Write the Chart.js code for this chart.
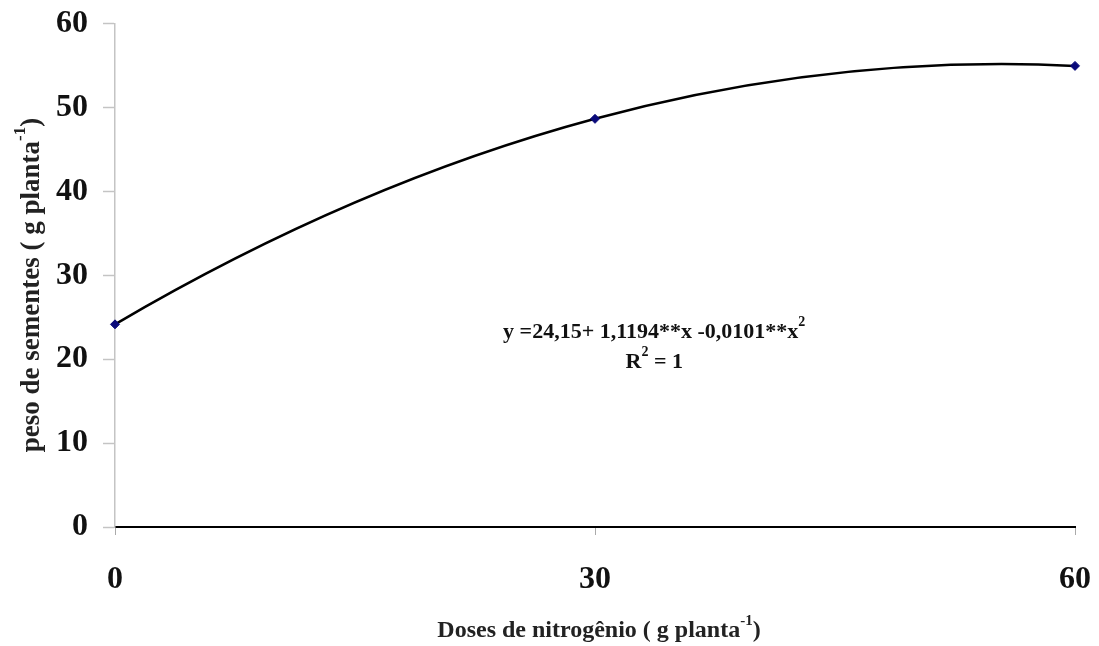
<!DOCTYPE html>
<html>
<head>
<meta charset="utf-8">
<script src="https://cdn.jsdelivr.net/npm/chart.js@4/dist/chart.umd.min.js"></script>
<style>
  html, body { margin: 0; padding: 0; background: #fff; }
  canvas { display: block; }
</style>
</head>
<body>
<canvas id="c" width="1099" height="646"></canvas>
<script>
// Nitrogen doses (g per plant) and seed weight (g per plant)
const doses = [0, 30, 60];
const pesoSementes = [24.15, 48.64, 54.95];
const xTicks = [0, 30, 60];
const yTicks = [0, 10, 20, 30, 40, 50, 60];

const SERIF = '"Liberation Serif", "Times New Roman", serif';

// Draws a run of text pieces, some as superscripts, centred on (cx, cy)
function drawRich(ctx, parts, cx, cy, size) {
  const supSize = Math.round(size * 0.62);
  let total = 0;
  const widths = parts.map(p => {
    ctx.font = 'bold ' + (p.sup ? supSize : size) + 'px ' + SERIF;
    const w = ctx.measureText(p.t).width;
    total += w;
    return w;
  });
  let x = cx - total / 2;
  ctx.textBaseline = 'middle';
  ctx.textAlign = 'left';
  parts.forEach((p, i) => {
    ctx.font = 'bold ' + (p.sup ? supSize : size) + 'px ' + SERIF;
    ctx.fillText(p.t, x, p.sup ? cy - size * 0.42 : cy);
    x += widths[i];
  });
}

// Smooths the line as the parabola through neighbouring points:
// each point's tangent comes from the 3-point Lagrange parabola around it.
const parabolaPlugin = {
  id: 'quadraticTrend',
  beforeDatasetDraw(chart, args) {
    const meta = args.meta;
    const line = meta.dataset;
    const pts = meta.data;
    if (!line || pts.length < 3) return;
    line.updateControlPoints(chart.chartArea, meta.indexAxis);
    const slopeAt = i => {
      const j = Math.min(Math.max(i - 1, 0), pts.length - 3);
      const a = pts[j], b = pts[j + 1], c = pts[j + 2];
      const x = pts[i].x;
      return a.y * (2 * x - b.x - c.x) / ((a.x - b.x) * (a.x - c.x))
           + b.y * (2 * x - a.x - c.x) / ((b.x - a.x) * (b.x - c.x))
           + c.y * (2 * x - a.x - b.x) / ((c.x - a.x) * (c.x - b.x));
    };
    pts.forEach((p, i) => {
      const m = slopeAt(i);
      if (i > 0) {
        const dx = (p.x - pts[i - 1].x) / 3;
        p.cp1x = p.x - dx; p.cp1y = p.y - m * dx;
      }
      if (i < pts.length - 1) {
        const dx = (pts[i + 1].x - p.x) / 3;
        p.cp2x = p.x + dx; p.cp2y = p.y + m * dx;
      }
    });
    delete line._path;
  }
};

const textPlugin = {
  id: 'chartTexts',
  afterDraw(chart) {
    const ctx = chart.ctx;
    const xs = chart.scales.x, ys = chart.scales.y;
    ctx.save();
    ctx.fillStyle = '#111';

    // regression equation
    const ex = xs.getPixelForValue(33.7);
    drawRich(ctx, [
      { t: 'y =24,15+ 1,1194**x -0,0101**x' }, { t: '2', sup: true }
    ], ex, ys.getPixelForValue(23.25), 22);
    drawRich(ctx, [
      { t: 'R' }, { t: '2', sup: true }, { t: ' = 1' }
    ], ex, ys.getPixelForValue(19.65), 22);

    // x axis title
    ctx.fillStyle = '#222';
    drawRich(ctx, [
      { t: 'Doses de nitrogênio ( g planta' }, { t: '-1', sup: true }, { t: ')' }
    ], 599, 631, 24);

    // y axis title (rotated)
    ctx.translate(32, 285);
    ctx.rotate(-Math.PI / 2);
    drawRich(ctx, [
      { t: 'peso de sementes ( g planta' }, { t: '-1', sup: true }, { t: ')' }
    ], 0, 0, 27);
    ctx.restore();
  }
};

new Chart(document.getElementById('c'), {
  type: 'line',
  data: {
    datasets: [{
      data: doses.map((d, i) => ({ x: d, y: pesoSementes[i] })),
      borderColor: '#000',
      borderWidth: 2.5,
      tension: 0.4,
      fill: false,
      pointStyle: 'rectRot',
      pointRadius: 4.5,
      pointBackgroundColor: '#0a0a7a',
      pointBorderColor: '#0a0a7a',
      pointBorderWidth: 1,
      clip: false
    }]
  },
  options: {
    responsive: false,
    animation: false,
    events: [],
    layout: { padding: { top: 23.5, right: 24, bottom: 0, left: 0 } },
    plugins: { legend: { display: false }, tooltip: { enabled: false } },
    scales: {
      x: {
        type: 'linear',
        min: 0, max: 60,
        afterBuildTicks: s => { s.ticks = xTicks.map(v => ({ value: v })); },
        afterFit: s => { s.height = 119; s.paddingLeft = 0; s.paddingRight = 0; },
        border: { color: '#000', width: 2 },
        grid: { drawOnChartArea: false, drawTicks: true, tickLength: 8, tickColor: '#aaa', tickWidth: 1 },
        ticks: {
          color: '#111', padding: 26,
          font: { family: SERIF, size: 32, weight: 'bold' }
        }
      },
      y: {
        type: 'linear',
        min: 0, max: 60,
        afterBuildTicks: s => { s.ticks = yTicks.map(v => ({ value: v })); },
        afterFit: s => { s.width = 115; s.paddingTop = 0; s.paddingBottom = 0; },
        border: { color: '#c4c4c4', width: 1.5 },
        grid: { drawOnChartArea: false, drawTicks: true, tickLength: 12, tickColor: '#c4c4c4', tickWidth: 1.5 },
        ticks: {
          color: '#111', padding: 15,
          font: { family: SERIF, size: 32, weight: 'bold' }
        }
      }
    }
  },
  plugins: [parabolaPlugin, textPlugin]
});
</script>
</body>
</html>
